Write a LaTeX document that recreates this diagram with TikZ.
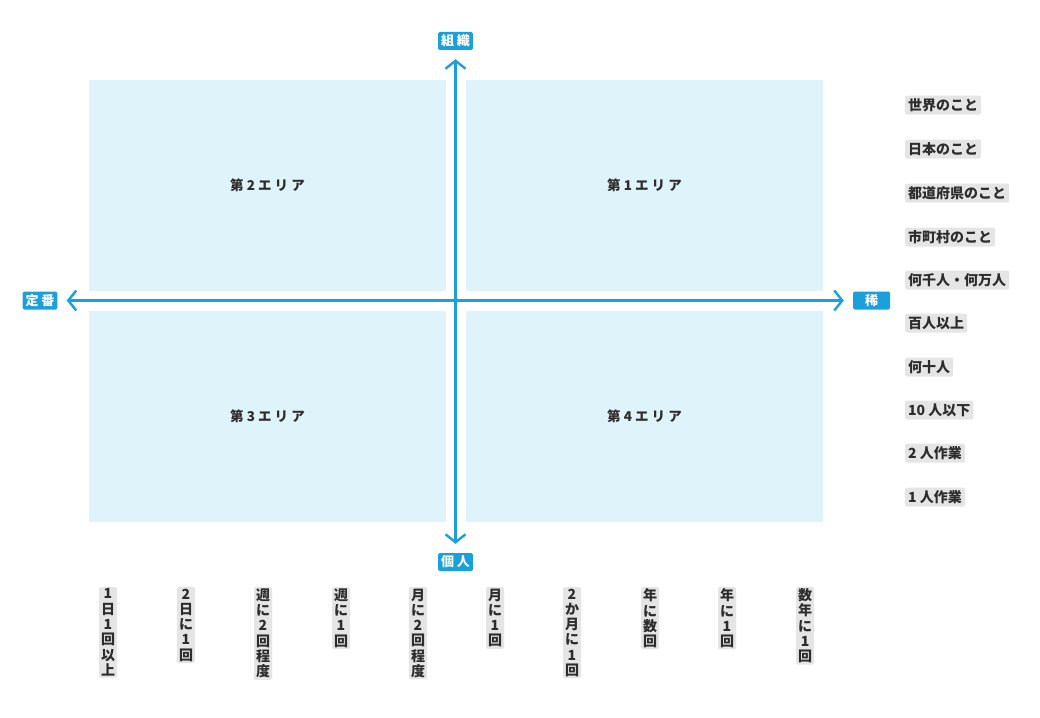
\documentclass[tikz,border=0pt]{standalone}
\usepackage{fontspec}
\setmainfont{Noto Sans CJK JP}
\usetikzlibrary{arrows.meta,positioning}
\definecolor{axisblue}{RGB}{27,160,220}
\definecolor{areablue}{RGB}{223,243,250}
\definecolor{taggray}{RGB}{229,229,229}
\definecolor{inkdark}{RGB}{45,45,45}

\begin{document}
\begin{tikzpicture}[
    x=1pt, y=-1pt,
    area/.style={rectangle, fill=areablue, minimum width=357pt,
        minimum height=211pt, font=\fontsize{13.5}{15}\selectfont\bfseries,
        text=inkdark},
    axislabel/.style={rectangle, fill=axisblue, text=white, rounded corners=1.5pt,
        minimum height=18pt, inner xsep=3pt, inner ysep=1pt,
        font=\fontsize{13}{14}\selectfont\bfseries},
    tag/.style={rectangle, fill=taggray, text=inkdark, rounded corners=1.5pt,
        minimum height=19pt, inner xsep=3pt, inner ysep=1pt,
        font=\fontsize{14}{15}\selectfont\bfseries, anchor=west},
    vtag/.style={rectangle, fill=taggray, text=inkdark, rounded corners=1.5pt,
        inner xsep=2pt, inner ysep=1.5pt, align=center, anchor=north,
        font=\fontsize{14}{15.3}\selectfont\bfseries},
    axisline/.style={axisblue, line width=2.4pt,
        {Straight Barb[length=8pt,width=20pt,line width=2.4pt]}-{Straight Barb[length=8pt,width=20pt,line width=2.4pt]},
        shorten <=9pt, shorten >=9pt}
]
    \useasboundingbox (0,0) rectangle (1040,717);

    % Four areas
    \node[area] (q2) at (267.5,185.5) {第 2 エ リ ア};
    \node[area] (q1) at (644.5,185.5) {第 1 エ リ ア};
    \node[area] (q3) at (267.5,416.5) {第 3 エ リ ア};
    \node[area] (q4) at (644.5,416.5) {第 4 エ リ ア};

    % Axes
    \node[axislabel] (soshiki) at (455.5,41) {組 織};
    \node[axislabel] (kojin) at (455.5,562) {個 人};
    \node[axislabel] (teiban) at (40,300.5) {定 番};
    \node[axislabel, minimum width=37pt] (mare) at (871.5,300.5) {稀};
    \draw[axisline] (teiban) -- (mare);
    \draw[axisline] (kojin) -- (soshiki);

    % Scale of people
    \node[tag] (s1) at (905,105) {世界のこと};
    \node[tag] (s2) at (905,149) {日本のこと};
    \node[tag] (s3) at (905,193) {都道府県のこと};
    \node[tag] (s4) at (905,237) {市町村のこと};
    \node[tag] (s5) at (905,280) {何千人・何万人};
    \node[tag] (s6) at (905,323) {百人以上};
    \node[tag] (s7) at (905,367) {何十人};
    \node[tag] (s8) at (905,410) {10 人以下};
    \node[tag] (s9) at (905,453) {2 人作業};
    \node[tag] (s10) at (905,497) {1 人作業};

    % Frequency
    \node[vtag] (f1) at (108,587) {1\\日\\1\\回\\以\\上};
    \node[vtag] (f2) at (186,587) {2\\日\\に\\1\\回};
    \node[vtag] (f3) at (263,587) {週\\に\\2\\回\\程\\度};
    \node[vtag] (f4) at (341,587) {週\\に\\1\\回};
    \node[vtag] (f5) at (418,587) {月\\に\\2\\回\\程\\度};
    \node[vtag] (f6) at (495,587) {月\\に\\1\\回};
    \node[vtag] (f7) at (572,587) {2\\か\\月\\に\\1\\回};
    \node[vtag] (f8) at (650,587) {年\\に\\数\\回};
    \node[vtag] (f9) at (727,587) {年\\に\\1\\回};
    \node[vtag] (f10) at (805,587) {数\\年\\に\\1\\回};
\end{tikzpicture}
\end{document}
